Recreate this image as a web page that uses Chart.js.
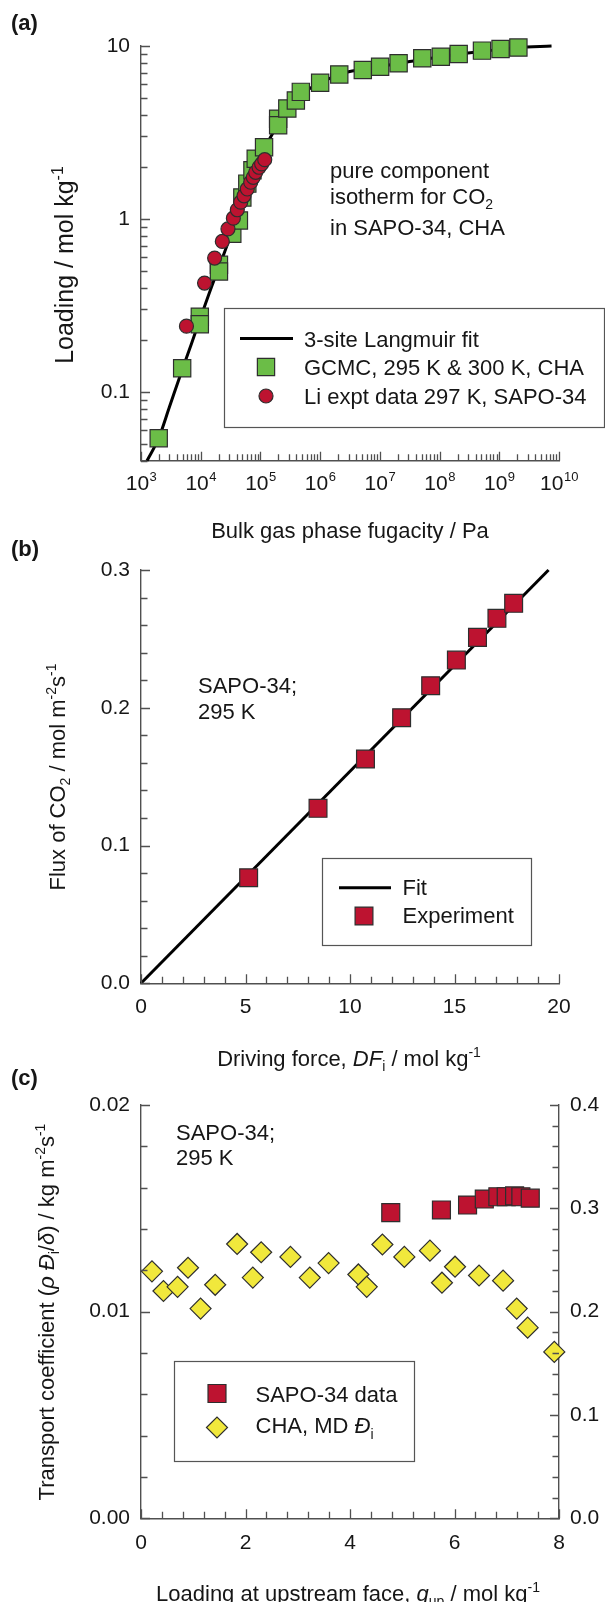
<!DOCTYPE html>
<html>
<head>
<meta charset="utf-8">
<script src="https://cdn.jsdelivr.net/npm/chart.js@4.4.0/dist/chart.umd.min.js"></script>
<style>
  html, body { margin: 0; padding: 0; background: #ffffff; }
  body { width: 605px; height: 1602px; position: relative; overflow: hidden; }
  canvas { position: absolute; left: 0; }
</style>
</head>
<body>
<canvas id="isotherm" width="605" height="548" style="top:0px"></canvas>
<canvas id="flux" width="605" height="536" style="top:536px"></canvas>
<canvas id="transport" width="605" height="536" style="top:1066px"></canvas>
<script>
// ---------- (a) pure component isotherm of CO2 ----------
const gcmcFugacity = [1980, 4890, 9660, 9660, 20200, 20200, 33800, 43600, 49800, 60300, 73500, 83400,
  115000, 198000, 198000, 282000, 392000, 475000, 1.0e6, 2.09e6, 5.18e6, 1.01e7, 2.06e7, 5.13e7,
  1.05e8, 2.09e8, 5.13e8, 1.05e9, 2.09e9];
const gcmcLoading = [0.054, 0.137, 0.272, 0.246, 0.543, 0.497, 0.82, 0.98, 1.33, 1.60, 1.91, 2.23,
  2.60, 3.80, 3.48, 4.35, 4.84, 5.43, 6.13, 6.85, 7.26, 7.59, 7.94, 8.49,
  8.67, 8.99, 9.40, 9.61, 9.79];
const liFugacity = [5770, 11600, 17100, 23000, 28600, 35200, 41000, 46700, 53100, 60300, 68700,
  75900, 83200, 94800, 104700, 118000];
const liLoading = [0.240, 0.426, 0.594, 0.741, 0.875, 1.01, 1.13, 1.25, 1.36, 1.49, 1.63,
  1.74, 1.86, 1.99, 2.08, 2.20];
const langmuirFugacity = [1260, 2000, 3000, 5000, 7000, 1e4, 1.5e4, 2e4, 3e4, 5e4, 7.5e4, 1e5,
  1.5e5, 2e5, 3e5, 5e5, 1e6, 2e6, 3e6, 5e6, 1e7, 3e7, 1e8, 3e8, 1e9, 2e9, 7.5e9];
const langmuirLoading = [0.040, 0.0545, 0.082, 0.137, 0.19, 0.27, 0.40, 0.52, 0.76, 1.22, 1.75, 2.3,
  3.0, 3.55, 4.4, 5.3, 6.1, 6.8, 7.1, 7.3, 7.6, 8.1, 8.65, 9.1, 9.55, 9.8, 10.0];
const fugacityDecades = [1e3, 1e4, 1e5, 1e6, 1e7, 1e8, 1e9, 1e10];
const fugacityExponents = ['3', '4', '5', '6', '7', '8', '9', '10'];
const loadingMajorTicks = [0.1, 1, 10];
const loadingTickLabels = ['0.1', '1', '10'];

// ---------- (b) flux vs driving force ----------
const drivingForce = [5.15, 8.47, 10.74, 12.47, 13.86, 15.09, 16.10, 17.03, 17.83];
const fluxCO2 = [0.0766, 0.127, 0.1628, 0.1928, 0.216, 0.2346, 0.2511, 0.2649, 0.2758];
const fitForce = [0, 19.5];
const fitFlux = [0, 0.300];
const forceMajorTicks = [0, 5, 10, 15, 20];
const forceTickLabels = ['0', '5', '10', '15', '20'];
const fluxMajorTicks = [0, 0.1, 0.2, 0.3];
const fluxTickLabels = ['0.0', '0.1', '0.2', '0.3'];

// ---------- (c) transport coefficient vs upstream loading ----------
const sapoLoading = [4.78, 5.75, 6.25, 6.57, 6.83, 6.99, 7.15, 7.27, 7.45];
const sapoCoefficient = [0.01479, 0.01492, 0.01516, 0.01545, 0.01556, 0.01556, 0.0156, 0.01556, 0.01549];
const chaLoading = [0.21, 0.43, 0.70, 0.90, 1.14, 1.42, 1.84, 2.14, 2.30, 2.86, 3.23, 3.59,
  4.16, 4.32, 4.62, 5.04, 5.53, 5.76, 6.01, 6.47, 6.93, 7.19, 7.40, 7.91];
const chaDiffusivity = [0.239, 0.220, 0.224, 0.2425, 0.203, 0.226, 0.2655, 0.233, 0.2575, 0.253, 0.233, 0.247,
  0.236, 0.224, 0.265, 0.253, 0.259, 0.228, 0.2435, 0.235, 0.230, 0.203, 0.1845, 0.161];
const qupMajorTicks = [0, 2, 4, 6, 8];
const qupTickLabels = ['0', '2', '4', '6', '8'];
const coefMajorTicks = [0, 0.01, 0.02];
const coefTickLabels = ['0.00', '0.01', '0.02'];
const diffMajorTicks = [0, 0.1, 0.2, 0.3, 0.4];
const diffTickLabels = ['0.0', '0.1', '0.2', '0.3', '0.4'];

// ---------- text ----------
const legendLangmuir = [{ t: '3-site Langmuir fit' }];
const legendGcmc = [{ t: 'GCMC, 295 K & 300 K, CHA' }];
const legendLi = [{ t: 'Li expt data 297 K, SAPO-34' }];
const legendFit = [{ t: 'Fit' }];
const legendExperiment = [{ t: 'Experiment' }];
const legendSapo = [{ t: 'SAPO-34 data' }];
const legendCha = [{ t: 'CHA, MD ' }, { t: 'Đ', it: true }, { t: 'i', sub: true }];
const plain = segs => segs.map(s => s.t).join('');

const FONT = '"Liberation Sans", Arial, Helvetica, sans-serif';
const INK = '#161616';
const AXIS = '#505050';
const GREEN = '#6bbd47';
const RED = '#bd1330';
const YELLOW = '#f1e83c';
const EDGE = '#2e2e2e';

function setFont(ctx, size, italic, bold) {
  ctx.font = (italic ? 'italic ' : '') + (bold ? 'bold ' : '') + size + 'px ' + FONT;
}
function segSize(s, size) { return (s.sub || s.sup) ? Math.round(size * 0.64) : size; }
function richWidth(ctx, segs, size) {
  let w = 0;
  for (const s of segs) { setFont(ctx, segSize(s, size), s.it, s.bold); w += ctx.measureText(s.t).width; }
  return w;
}
function drawRich(ctx, segs, x, y, size, align) {
  let cx = align === 'center' ? x - richWidth(ctx, segs, size) / 2 : x;
  ctx.textAlign = 'left';
  ctx.textBaseline = 'alphabetic';
  ctx.fillStyle = INK;
  for (const s of segs) {
    setFont(ctx, segSize(s, size), s.it, s.bold);
    const dy = s.sup ? -size * 0.42 : (s.sub ? size * 0.24 : 0);
    ctx.fillText(s.t, cx, y + dy);
    cx += ctx.measureText(s.t).width;
  }
}

function near(a, b) { return Math.abs(a - b) <= 1e-9 * Math.max(1, Math.abs(a), Math.abs(b)); }

// inward tick marks along one axis
function drawInnerTicks(chart, spec) {
  const s = chart.scales[spec.id];
  const a = chart.chartArea;
  const ctx = chart.ctx;
  ctx.save();
  ctx.strokeStyle = AXIS;
  ctx.lineWidth = 1.3;
  ctx.beginPath();
  for (const t of s.ticks) {
    const p = Math.round(s.getPixelForValue(t.value)) + 0.5;
    const len = spec.majors.some(m => near(m, t.value)) ? 9 : 6.5;
    if (spec.side === 'left') { ctx.moveTo(a.left, p); ctx.lineTo(a.left + len, p); }
    else if (spec.side === 'right') { ctx.moveTo(a.right, p); ctx.lineTo(a.right - len, p); }
    else { ctx.moveTo(p, a.bottom); ctx.lineTo(p, a.bottom - len); }
  }
  ctx.stroke();
  ctx.restore();
}

function drawLegend(chart, lg, off) {
  const ctx = chart.ctx;
  ctx.save();
  ctx.fillStyle = '#ffffff';
  ctx.fillRect(lg.box[0], lg.box[1] - off, lg.box[2] - lg.box[0], lg.box[3] - lg.box[1]);
  ctx.strokeStyle = '#555555';
  ctx.lineWidth = 1.2;
  ctx.strokeRect(lg.box[0] + 0.5, lg.box[1] - off + 0.5, lg.box[2] - lg.box[0], lg.box[3] - lg.box[1]);
  for (const r of lg.rows) {
    const ds = chart.data.datasets[r.ds];
    if (r.line) {
      ctx.strokeStyle = ds.borderColor;
      ctx.lineWidth = ds.borderWidth;
      ctx.beginPath();
      ctx.moveTo(r.line[0], r.mark - off);
      ctx.lineTo(r.line[1], r.mark - off);
      ctx.stroke();
    } else {
      ctx.fillStyle = ds.backgroundColor;
      ctx.strokeStyle = ds.borderColor;
      ctx.lineWidth = ds.borderWidth;
      Chart.helpers.drawPoint(ctx, { pointStyle: ds.pointStyle, radius: ds.pointRadius, rotation: 0, borderWidth: ds.borderWidth }, r.markX, r.mark - off);
    }
    drawRich(ctx, r.text, lg.textX, r.base - off, 22, 'left');
  }
  ctx.restore();
}

function decorPlugin(cfg) {
  return {
    id: 'decor',
    afterDraw(chart) {
      const ctx = chart.ctx;
      const off = cfg.offset;
      for (const t of cfg.ticks) drawInnerTicks(chart, t);
      if (cfg.extra) cfg.extra(chart);
      ctx.save();
      for (const tt of cfg.titles) {
        if (tt.rotate) {
          ctx.save();
          ctx.translate(tt.x, tt.y - off);
          ctx.rotate(-Math.PI / 2);
          drawRich(ctx, tt.segs, 0, 0, tt.size || 22, 'center');
          ctx.restore();
        } else {
          drawRich(ctx, tt.segs, tt.x, tt.y - off, tt.size || 22, tt.align || 'center');
        }
      }
      for (const n of cfg.notes) drawRich(ctx, n.segs, n.x, n.y - off, 22, 'left');
      drawRich(ctx, [{ t: cfg.letter, bold: true }], 11, cfg.letterY - off, 22, 'left');
      ctx.restore();
      drawLegend(chart, cfg.legend, off);
    }
  };
}

function linearAxis(o) {
  return {
    type: 'linear', position: o.position, min: o.min, max: o.max,
    grid: { display: false, drawTicks: false },
    border: { display: true, color: AXIS, width: 1.4 },
    ticks: {
      autoSkip: false, maxRotation: 0, minRotation: 0, padding: o.padding,
      color: INK, font: { family: FONT, size: 21 },
      callback: v => { const i = o.majors.findIndex(m => near(m, v)); return i >= 0 ? o.labels[i] : ''; }
    },
    afterBuildTicks: s => {
      const n = Math.round((o.max - o.min) / o.step);
      s.ticks = [];
      for (let i = 0; i <= n; i++) s.ticks.push({ value: +(o.min + i * o.step).toFixed(6) });
    },
    afterFit: s => { if (s.isHorizontal()) s.height = o.size; else s.width = o.size; }
  };
}

const baseOptions = {
  responsive: false, animation: false, events: [],
  plugins: { legend: { display: false }, tooltip: { enabled: false } }
};
const pts = (xs, ys) => xs.map((x, i) => ({ x, y: ys[i] }));

// ======================= (a) =======================
const logTicks = [];
for (let e = 3; e <= 9; e++) for (let m = 1; m <= 9; m++) logTicks.push(m * Math.pow(10, e));
logTicks.push(1e10);
const loadTicks = [0.04, 0.05, 0.06, 0.07, 0.08, 0.09];
for (let e = -1; e <= 0; e++) for (let m = 1; m <= 9; m++) loadTicks.push(+(m * Math.pow(10, e)).toFixed(6));
loadTicks.push(10);

new Chart(document.getElementById('isotherm'), {
  type: 'scatter',
  data: {
    datasets: [
      { label: plain(legendLi), data: pts(liFugacity, liLoading), pointStyle: 'circle', pointRadius: 7,
        backgroundColor: RED, borderColor: EDGE, borderWidth: 1.2, order: 0, clip: false },
      { label: plain(legendGcmc), data: pts(gcmcFugacity, gcmcLoading), pointStyle: 'rect', pointRadius: 12.2,
        backgroundColor: GREEN, borderColor: EDGE, borderWidth: 1.2, order: 1, clip: false },
      { label: plain(legendLangmuir), data: pts(langmuirFugacity, langmuirLoading), showLine: true, pointRadius: 0,
        borderColor: '#000000', borderWidth: 3, cubicInterpolationMode: 'monotone', order: 2, clip: false }
    ]
  },
  options: Object.assign({}, baseOptions, {
    layout: { padding: { top: 46, right: 46, left: 0, bottom: 0 } },
    scales: {
      x: {
        type: 'logarithmic', position: 'bottom', min: 1e3, max: 1e10,
        grid: { display: false, drawTicks: false },
        border: { display: true, color: AXIS, width: 1.4 },
        ticks: { display: false, autoSkip: false },
        afterBuildTicks: s => { s.ticks = logTicks.map(v => ({ value: v })); },
        afterFit: s => { s.height = 548 - 460.7; }
      },
      y: {
        type: 'logarithmic', position: 'left', min: 0.04, max: 10,
        grid: { display: false, drawTicks: false },
        border: { display: true, color: AXIS, width: 1.4 },
        ticks: {
          autoSkip: false, padding: 11, color: INK, font: { family: FONT, size: 21 },
          callback: v => { const i = loadingMajorTicks.findIndex(m => near(m, v)); return i >= 0 ? loadingTickLabels[i] : ''; }
        },
        afterBuildTicks: s => { s.ticks = loadTicks.map(v => ({ value: v })); },
        afterFit: s => { s.width = 141; }
      }
    }
  }),
  plugins: [decorPlugin({
    offset: 0, letter: '(a)', letterY: 30,
    ticks: [{ id: 'x', side: 'bottom', majors: fugacityDecades }, { id: 'y', side: 'left', majors: loadingMajorTicks }],
    extra: chart => {
      const ctx = chart.ctx, s = chart.scales.x;
      fugacityDecades.forEach((d, i) => {
        setFont(ctx, 21); const w1 = ctx.measureText('10').width;
        setFont(ctx, 13); const w2 = ctx.measureText(fugacityExponents[i]).width;
        const x0 = s.getPixelForValue(d) - (w1 + w2) / 2;
        ctx.save();
        ctx.fillStyle = INK; ctx.textAlign = 'left'; ctx.textBaseline = 'alphabetic';
        setFont(ctx, 21); ctx.fillText('10', x0, 490);
        setFont(ctx, 13); ctx.fillText(fugacityExponents[i], x0 + w1 + 0.5, 481);
        ctx.restore();
      });
    },
    titles: [
      { segs: [{ t: 'Bulk gas phase fugacity / Pa' }], x: 350, y: 538 },
      { segs: [{ t: 'Loading / mol kg' }, { t: '-1', sup: true }], x: 73, y: 265, rotate: true, size: 25 }
    ],
    notes: [
      { segs: [{ t: 'pure component' }], x: 330, y: 177.7 },
      { segs: [{ t: 'isotherm for CO' }, { t: '2', sub: true }], x: 330, y: 204 },
      { segs: [{ t: 'in SAPO-34, CHA' }], x: 330, y: 235 }
    ],
    legend: {
      box: [224, 308, 604, 427], textX: 304,
      rows: [
        { ds: 2, line: [240, 293], mark: 338.5, base: 346.5, text: legendLangmuir },
        { ds: 1, markX: 266, mark: 367, base: 374.5, text: legendGcmc },
        { ds: 0, markX: 266, mark: 396, base: 403.5, text: legendLi }
      ]
    }
  })]
});

// ======================= (b) =======================
const OFF_B = 536;
new Chart(document.getElementById('flux'), {
  type: 'scatter',
  data: {
    datasets: [
      { label: plain(legendExperiment), data: pts(drivingForce, fluxCO2), pointStyle: 'rect', pointRadius: 12.6,
        backgroundColor: RED, borderColor: EDGE, borderWidth: 1.2, order: 0, clip: false },
      { label: plain(legendFit), data: pts(fitForce, fitFlux), showLine: true, pointRadius: 0,
        borderColor: '#000000', borderWidth: 3, order: 1, clip: false }
    ]
  },
  options: Object.assign({}, baseOptions, {
    layout: { padding: { top: 570 - OFF_B, right: 46, left: 0, bottom: 0 } },
    scales: {
      x: linearAxis({ position: 'bottom', min: 0, max: 20, step: 1, majors: forceMajorTicks, labels: forceTickLabels, padding: 11, size: 536 - (983.3 - OFF_B) }),
      y: linearAxis({ position: 'left', min: 0, max: 0.3, step: 0.02, majors: fluxMajorTicks, labels: fluxTickLabels, padding: 11, size: 141 })
    }
  }),
  plugins: [decorPlugin({
    offset: OFF_B, letter: '(b)', letterY: 556,
    ticks: [{ id: 'x', side: 'bottom', majors: forceMajorTicks }, { id: 'y', side: 'left', majors: fluxMajorTicks }],
    titles: [
      { segs: [{ t: 'Driving force, ' }, { t: 'DF', it: true }, { t: 'i', sub: true }, { t: ' / mol kg' }, { t: '-1', sup: true }], x: 349, y: 1066 },
      { segs: [{ t: 'Flux of CO' }, { t: '2', sub: true }, { t: ' / mol m' }, { t: '-2', sup: true }, { t: 's' }, { t: '-1', sup: true }], x: 65, y: 777, rotate: true }
    ],
    notes: [
      { segs: [{ t: 'SAPO-34;' }], x: 198, y: 693.3 },
      { segs: [{ t: '295 K' }], x: 198, y: 719.3 }
    ],
    legend: {
      box: [322, 858, 531, 945], textX: 402.5,
      rows: [
        { ds: 1, line: [339, 391], mark: 887.7, base: 895, text: legendFit },
        { ds: 0, markX: 364, mark: 916, base: 923.3, text: legendExperiment }
      ]
    }
  })]
});

// ======================= (c) =======================
const OFF_C = 1066;
new Chart(document.getElementById('transport'), {
  type: 'scatter',
  data: {
    datasets: [
      { label: plain(legendSapo), data: pts(sapoLoading, sapoCoefficient), yAxisID: 'y', pointStyle: 'rect', pointRadius: 12.7,
        backgroundColor: RED, borderColor: EDGE, borderWidth: 1.2, order: 0, clip: false },
      { label: plain(legendCha), data: pts(chaLoading, chaDiffusivity), yAxisID: 'y2', pointStyle: 'rectRot', pointRadius: 10.5,
        backgroundColor: YELLOW, borderColor: EDGE, borderWidth: 1.2, order: 1, clip: false }
    ]
  },
  options: Object.assign({}, baseOptions, {
    layout: { padding: { top: 1105 - OFF_C, right: 0, left: 0, bottom: 0 } },
    scales: {
      x: linearAxis({ position: 'bottom', min: 0, max: 8, step: 0.4, majors: qupMajorTicks, labels: qupTickLabels, padding: 12, size: 536 - (1518.3 - OFF_C) }),
      y: linearAxis({ position: 'left', min: 0, max: 0.02, step: 0.002, majors: coefMajorTicks, labels: coefTickLabels, padding: 11, size: 141 }),
      y2: linearAxis({ position: 'right', min: 0, max: 0.4, step: 0.02, majors: diffMajorTicks, labels: diffTickLabels, padding: 11, size: 46 })
    }
  }),
  plugins: [decorPlugin({
    offset: OFF_C, letter: '(c)', letterY: 1085,
    ticks: [{ id: 'x', side: 'bottom', majors: qupMajorTicks }, { id: 'y', side: 'left', majors: coefMajorTicks },
            { id: 'y2', side: 'right', majors: diffMajorTicks }],
    titles: [
      { segs: [{ t: 'Loading at upstream face, ' }, { t: 'q', it: true }, { t: 'up', sub: true }, { t: ' / mol kg' }, { t: '-1', sup: true }], x: 348, y: 1601 },
      { segs: [{ t: 'Transport coefficient (' }, { t: 'ρ Đ', it: true }, { t: 'i', sub: true }, { t: '/' }, { t: 'δ', it: true },
               { t: ') / kg m' }, { t: '-2', sup: true }, { t: 's' }, { t: '-1', sup: true }], x: 54, y: 1312, rotate: true }
    ],
    notes: [
      { segs: [{ t: 'SAPO-34;' }], x: 176, y: 1140 },
      { segs: [{ t: '295 K' }], x: 176, y: 1165 }
    ],
    legend: {
      box: [174, 1361, 414, 1461], textX: 255.5,
      rows: [
        { ds: 0, markX: 217, mark: 1393.5, base: 1401.5, text: legendSapo },
        { ds: 1, markX: 217, mark: 1427.5, base: 1433.3, text: legendCha }
      ]
    }
  })]
});
</script>
</body>
</html>
